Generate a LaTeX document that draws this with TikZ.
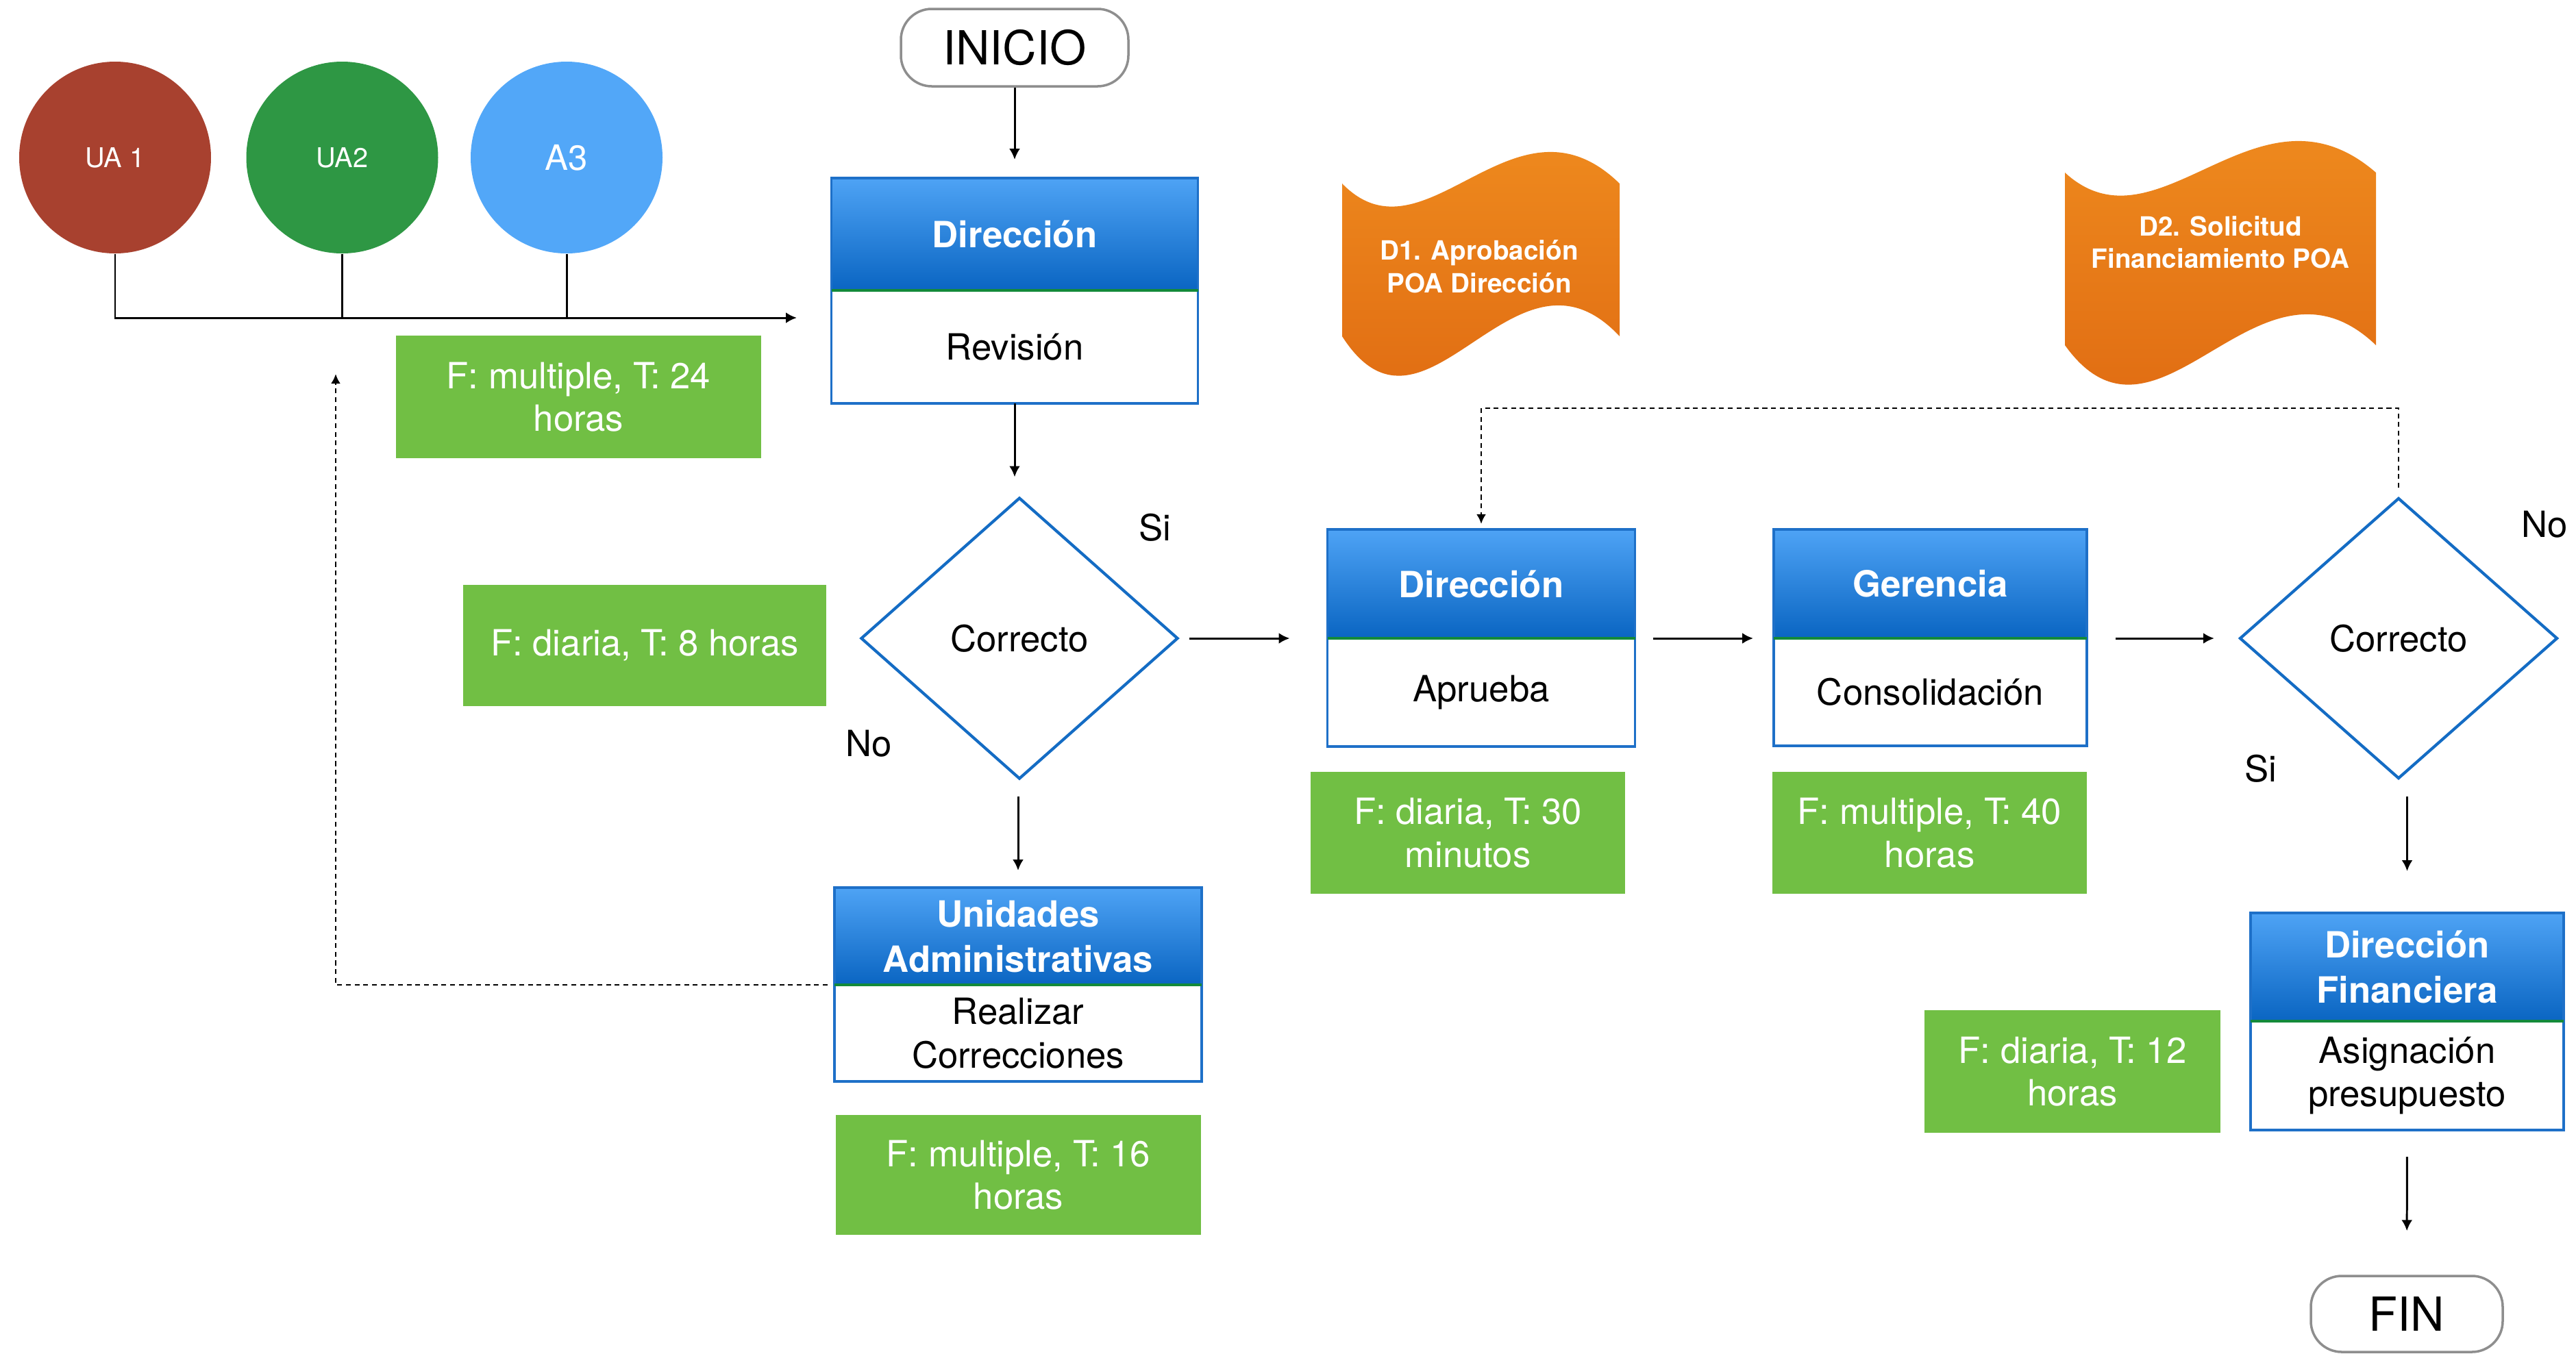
\documentclass[tikz,border=0pt]{standalone}
\usepackage{fontspec}
\setmainfont{TeX Gyre Heros}
\usepackage{tikz}
\usetikzlibrary{shapes.geometric, arrows.meta, positioning, calc}

\definecolor{rojoUA}{HTML}{A8412F}
\definecolor{verdeUA}{HTML}{2E9744}
\definecolor{azulUA}{HTML}{52A7F8}
\definecolor{verdeT}{HTML}{71BF44}
\definecolor{naranjaA}{HTML}{F19020}
\definecolor{naranjaB}{HTML}{DD6510}
\definecolor{azulA}{HTML}{4EA3F5}
\definecolor{azulB}{HTML}{0A65C2}
\definecolor{azulborde}{HTML}{1E70C8}
\definecolor{azuldiamante}{HTML}{146CC4}
\definecolor{verdesep}{HTML}{138A3A}
\definecolor{grisborde}{HTML}{8E8E8E}

% cinta ondulada: x izq, y sup, ancho, alto
\newcommand{\cinta}[4]{
  \begin{scope}[shift={(#1,#2)}, xscale=#3]
    \shade[top color=naranjaA, bottom color=naranjaB]
      (0,0) .. controls (0.30,-1.25) and (0.62,1.5) .. (1,0)
      -- (1,-#4) .. controls (0.62,-#4+1.65) and (0.30,-#4-1.9) .. (0,-#4) -- cycle;
  \end{scope}
}

\begin{document}
\begin{tikzpicture}[
    flecha/.style={-{Latex[length=4.5pt,width=4.5pt]}, line width=0.85pt},
    punteado/.style={-{Latex[length=4pt,width=4pt]}, line width=0.8pt, dash pattern=on 2pt off 1.6pt},
    terminal/.style={draw=grisborde, line width=1pt, rounded corners=0.45cm, fill=white,
        font=\fontsize{19.5}{23}\selectfont, inner sep=0pt},
    cabecera/.style={draw=azulborde, line width=0.9pt, top color=azulA, bottom color=azulB,
        text=white, font=\bfseries\fontsize{15}{18.8}\selectfont, align=center, inner sep=0pt, outer sep=0pt},
    cuerpo/.style={draw=azulborde, line width=0.9pt, fill=white,
        font=\fontsize{15}{18.2}\selectfont, align=center, inner sep=0pt, outer sep=0pt},
    decision/.style={diamond, draw=azuldiamante, line width=1.2pt, inner sep=0pt,
        font=\fontsize{15}{18}\selectfont},
    tiempo/.style={fill=verdeT, text=white, font=\fontsize{15}{17.8}\selectfont, align=center, inner sep=0pt},
    unidad/.style={circle, minimum size=2.8cm, inner sep=0pt, text=white},
    etiqueta/.style={font=\fontsize{15}{18}\selectfont, inner sep=0pt},
    documento/.style={text=white, font=\bfseries\fontsize{11}{13.5}\selectfont, align=center, inner sep=0pt}
  ]
  \useasboundingbox (0,0) rectangle (37.6,-19.76);

  % unidades administrativas
  \node[unidad, fill=rojoUA, font=\fontsize{11.3}{13}\selectfont] (ua1) at (1.68,-2.30) {UA 1};
  \node[unidad, fill=verdeUA, font=\fontsize{11.3}{13}\selectfont] (ua2) at (4.995,-2.30) {UA2};
  \node[unidad, fill=azulUA, font=\fontsize{14.5}{16}\selectfont] (a3) at (8.27,-2.30) {A3};
  \coordinate (entrada) at (11.63,-4.64);
  \draw[flecha] (ua1.south) |- (entrada);
  \draw[line width=0.85pt] (ua2.south) -- (ua2.south |- entrada);
  \draw[line width=0.85pt] (a3.south) -- (a3.south |- entrada);

  % documentos
  \cinta{19.59}{-2.68}{4.05}{2.23}
  \node[documento] (doc1) at (21.59,-3.89) {D1. Aprobación\\POA Dirección};
  \cinta{30.14}{-2.52}{4.54}{2.52}
  \node[documento] (doc2) at (32.41,-3.54) {D2. Solicitud\\Financiamiento POA};

  % inicio y fin
  \node[terminal, minimum width=3.32cm, minimum height=1.13cm] (inicio) at (14.81,-0.695) {INICIO};
  \node[terminal, minimum width=2.80cm, minimum height=1.11cm] (fin) at (35.13,-19.185) {FIN};

  % procesos
  \node[cabecera, minimum width=5.35cm, minimum height=1.64cm] (dir1) at (14.81,-3.42) {Dirección};
  \node[cuerpo, minimum width=5.35cm, minimum height=1.65cm, below=0pt of dir1] (rev) {Revisión};
  \node[cabecera, minimum width=4.49cm, minimum height=1.59cm] (dir2) at (21.62,-8.525) {Dirección};
  \node[cuerpo, minimum width=4.49cm, minimum height=1.58cm, below=0pt of dir2] (apr) {Aprueba};
  \node[cabecera, minimum width=4.57cm, minimum height=1.59cm] (ger) at (28.175,-8.525) {Gerencia};
  \node[cuerpo, minimum width=4.57cm, minimum height=1.57cm, below=0pt of ger] (con) {Consolidación};
  \node[cabecera, minimum width=5.36cm, minimum height=1.42cm] (uah) at (14.86,-13.67) {Unidades\\Administrativas};
  \node[cuerpo, minimum width=5.36cm, minimum height=1.41cm, below=0pt of uah] (corr) {Realizar\\Correcciones};
  \node[cabecera, minimum width=4.57cm, minimum height=1.58cm] (dfh) at (35.135,-14.12) {Dirección\\Financiera};
  \node[cuerpo, minimum width=4.57cm, minimum height=1.59cm, below=0pt of dfh] (asig) {Asignación\\presupuesto};
  \foreach \h in {dir1, dir2, ger, uah, dfh}
    \draw[verdesep, line width=0.9pt] (\h.south west) -- (\h.south east);

  % decisiones
  \node[decision, minimum width=4.63cm, minimum height=4.11cm] (d1) at (14.88,-9.32) {Correcto};
  \node[decision, minimum width=4.64cm, minimum height=4.10cm] (d2) at (35.01,-9.32) {Correcto};
  \node[etiqueta] (si1) at (16.86,-7.70) {Si};
  \node[etiqueta] (no1) at (12.68,-10.86) {No};
  \node[etiqueta] (no2) at (37.14,-7.66) {No};
  \node[etiqueta] (si2) at (33.00,-11.22) {Si};

  % tiempos
  \node[tiempo, minimum width=5.33cm, minimum height=1.79cm] (t1) at (8.445,-5.795) {F: multiple, T: 24\\horas};
  \node[tiempo, minimum width=5.30cm, minimum height=1.77cm] (t2) at (9.41,-9.425) {F: diaria, T: 8 horas};
  \node[tiempo, minimum width=5.33cm, minimum height=1.75cm] (t3) at (14.865,-17.155) {F: multiple, T: 16\\horas};
  \node[tiempo, minimum width=4.59cm, minimum height=1.78cm] (t4) at (21.425,-12.16) {F: diaria, T: 30\\minutos};
  \node[tiempo, minimum width=4.59cm, minimum height=1.78cm] (t5) at (28.165,-12.16) {F: multiple, T: 40\\horas};
  \node[tiempo, minimum width=4.32cm, minimum height=1.79cm] (t6) at (30.25,-15.645) {F: diaria, T: 12\\horas};

  % conectores
  \draw[flecha, shorten >=0.27cm] (inicio.south) -- (dir1.north);
  \draw[flecha, shorten >=0.28cm] (rev.south) -- (rev.south |- d1.north);
  \draw[flecha, shorten <=0.14cm, shorten >=0.55cm] (d1.east) -- (d1.east -| apr.west);
  \draw[flecha, shorten <=0.26cm, shorten >=0.30cm] (dir2.south east) -- (ger.south west);
  \draw[flecha, shorten <=0.42cm, shorten >=0.35cm] (ger.south east) -- (ger.south east -| d2.west);
  \draw[flecha, shorten <=0.23cm, shorten >=0.25cm] (d1.south -| uah.north) -- (uah.north);
  \draw[flecha, shorten <=0.24cm, shorten >=0.61cm] (dfh.north |- d2.south) -- (dfh.north);
  \draw[flecha, shorten <=0.39cm, shorten >=0.64cm] (asig.south) -- (fin.north);

  % retornos
  \coordinate (regreso) at (4.90,-5.46);
  \draw[punteado, shorten <=0.1cm] (uah.south west) -| (regreso);
  \draw[punteado, shorten <=0.13cm, shorten >=0.08cm] (d2.north) -- ++(0,1.29) -| (dir2.north);
\end{tikzpicture}
\end{document}
